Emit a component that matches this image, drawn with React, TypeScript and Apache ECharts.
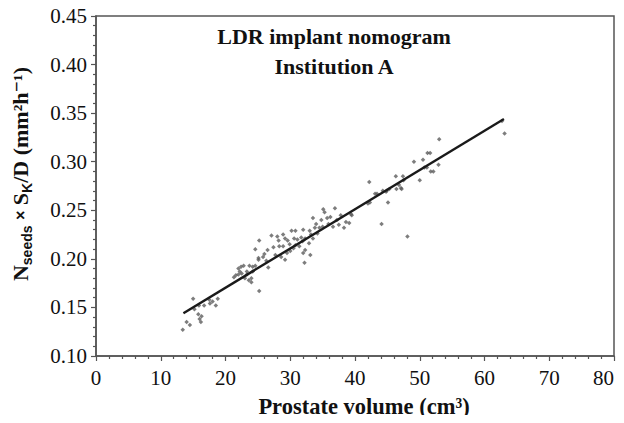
import React, { useEffect, useRef } from "react";
import * as echarts from "echarts";

// Scatter data: [prostate volume (cm³), Nseeds × SK / D]
const volumes: number[] = [
  13.4, 14.0, 14.5, 15.0, 15.2, 15.8, 16.0, 16.2, 16.3, 15.9, 16.7, 17.5, 17.6, 18.0, 18.5, 18.8,
  21.3, 21.6, 22.0, 22.2, 22.5, 22.4, 22.8, 23.0, 23.3, 23.3, 23.7, 24.0, 24.0, 24.2, 24.2, 24.6, 24.6, 25.1, 25.1, 25.2, 25.2, 25.8, 26.3, 26.5, 26.6,
  27.1, 27.7, 28.0, 28.3, 28.6, 28.9, 28.9, 29.2, 29.2, 29.5, 29.9, 30.2, 30.5, 30.6, 30.8, 30.8, 31.1, 31.7, 32.0, 32.0, 32.2, 32.3, 32.3, 32.9, 33.1, 33.2, 33.5, 33.5, 33.8, 34.2, 34.5,
  35.0, 35.1, 35.3, 35.7, 35.9, 36.6, 36.9, 37.2, 37.8, 38.3, 38.6, 39.1, 39.4, 39.5,
  42.0, 42.2, 42.3, 43.1, 43.4, 44.1, 44.3, 44.8, 44.9, 45.1, 45.3, 46.3, 46.4, 46.8, 47.1, 47.2, 47.4, 47.5, 48.1,
  49.1, 50.0, 50.5, 50.7, 51.1, 51.2, 51.6, 51.7, 52.1, 52.9, 53.0,
  62.7, 63.1,
  27.4, 28.2, 29.6, 30.0, 31.4, 31.9, 33.0, 34.0, 34.8, 36.2, 37.5, 22.0, 23.6, 26.0,
];
const doses: number[] = [
  0.127, 0.135, 0.132, 0.159, 0.148, 0.143, 0.138, 0.135, 0.141, 0.152, 0.152, 0.158, 0.154, 0.156, 0.152, 0.159,
  0.181, 0.183, 0.184, 0.187, 0.185, 0.192, 0.193, 0.180, 0.187, 0.184, 0.193, 0.176, 0.180, 0.187, 0.192, 0.193, 0.210, 0.201, 0.199, 0.219, 0.167, 0.202, 0.198, 0.209, 0.191,
  0.224, 0.204, 0.223, 0.213, 0.202, 0.213, 0.225, 0.221, 0.199, 0.206, 0.215, 0.229, 0.211, 0.221, 0.229, 0.214, 0.220, 0.222, 0.230, 0.206, 0.196, 0.221, 0.209, 0.216, 0.204, 0.225, 0.242, 0.221, 0.232, 0.226, 0.232,
  0.233, 0.251, 0.248, 0.242, 0.236, 0.233, 0.252, 0.240, 0.245, 0.232, 0.238, 0.237, 0.246, 0.245,
  0.257, 0.279, 0.258, 0.267, 0.267, 0.236, 0.270, 0.269, 0.270, 0.258, 0.272, 0.285, 0.272, 0.276, 0.273, 0.272, 0.285, 0.281, 0.223,
  0.300, 0.281, 0.302, 0.294, 0.294, 0.309, 0.309, 0.290, 0.290, 0.297, 0.323,
  0.342, 0.329,
  0.212, 0.219, 0.219, 0.208, 0.213, 0.218, 0.229, 0.236, 0.240, 0.243, 0.235, 0.190, 0.178, 0.205,
];
// Fitted line end points
const fitX: number[] = [13.5, 63.0];
const fitY: number[] = [0.144, 0.344];

const titleLines: string[] = ["LDR implant nomogram", "Institution A"];

const SERIF = "'Liberation Serif', 'DejaVu Serif', serif";
const SANS = "'Liberation Sans', 'DejaVu Sans', sans-serif";
const AXIS_COLOR = "#555";

export default function App() {
  const ref = useRef<HTMLDivElement>(null);
  useEffect(() => {
    if (!ref.current) return;
    const chart = echarts.init(ref.current, undefined, { renderer: "svg" });
    const points = volumes.map((v, i) => [v, doses[i]]);
    const line = fitX.map((v, i) => [v, fitY[i]]);
    chart.setOption({
      animation: false,
      backgroundColor: "#fff",
      title: {
        text: titleLines.join("\n"),
        left: 334,
        top: 21,
        padding: 0,
        textAlign: "center",
        textStyle: {
          fontFamily: SERIF,
          fontWeight: "bold",
          fontSize: 22,
          lineHeight: 30,
          color: "#111",
        },
      },
      grid: {
        left: 96,
        right: 10,
        top: 16,
        bottom: 65,
        show: true,
        borderColor: AXIS_COLOR,
        borderWidth: 1.5,
        backgroundColor: "transparent",
      },
      xAxis: {
        type: "value",
        min: 0,
        max: 80,
        interval: 10,
        name: "Prostate volume (cm³)",
        nameLocation: "middle",
        nameGap: 39,
        nameTextStyle: {
          fontFamily: SERIF,
          fontWeight: "bold",
          fontSize: 22.5,
          color: "#111",
          padding: [0, 0, 0, 18],
        },
        axisLine: { show: true, lineStyle: { color: AXIS_COLOR, width: 1.5 } },
        axisTick: { show: true, inside: false, length: 5, lineStyle: { color: AXIS_COLOR, width: 1.2 } },
        minorTick: { show: true, splitNumber: 5, length: 3, lineStyle: { color: AXIS_COLOR, width: 1.2 } },
        splitLine: { show: false },
        axisLabel: { fontFamily: SERIF, fontSize: 21, color: "#111", margin: 11, alignMaxLabel: "right" },
      },
      yAxis: {
        type: "value",
        min: 0.1,
        max: 0.45,
        interval: 0.05,
        name: "{b|N}{s|seeds}{b| }{x|×}{b| S}{s|K}{b|/D (mm²h⁻¹)}",
        nameLocation: "middle",
        nameGap: 62,
        nameRotate: 90,
        nameTextStyle: {
          fontFamily: SERIF,
          fontWeight: "bold",
          fontSize: 22,
          color: "#111",
          padding: [0, 0, 0, 24],
          rich: {
            b: { fontFamily: SERIF, fontWeight: "bold", fontSize: 22, lineHeight: 27, color: "#111" },
            s: { fontFamily: SANS, fontWeight: "bold", fontSize: 14, lineHeight: 12, verticalAlign: "bottom", color: "#111" },
            x: { fontFamily: SANS, fontWeight: "bold", fontSize: 16, lineHeight: 27, color: "#111" },
          },
        },
        axisLine: { show: true, lineStyle: { color: AXIS_COLOR, width: 1.5 } },
        axisTick: { show: true, inside: false, length: 5, lineStyle: { color: AXIS_COLOR, width: 1.2 } },
        minorTick: { show: true, splitNumber: 5, length: 3, lineStyle: { color: AXIS_COLOR, width: 1.2 } },
        splitLine: { show: false },
        axisLabel: {
          fontFamily: SERIF,
          fontSize: 21,
          color: "#111",
          margin: 9,
          formatter: (v: number) => v.toFixed(2),
        },
      },
      series: [
        {
          type: "scatter",
          data: points,
          symbol: "diamond",
          symbolSize: 4.5,
          itemStyle: { color: "#5c5c5c" },
          z: 2,
        },
        {
          type: "line",
          data: line,
          symbol: "none",
          lineStyle: { color: "#1a1a1a", width: 2.4 },
          z: 3,
        },
      ],
    });
    return () => chart.dispose();
  }, []);
  return <div ref={ref} style={{ width: 624, height: 423, margin: -8 }} />;
}
